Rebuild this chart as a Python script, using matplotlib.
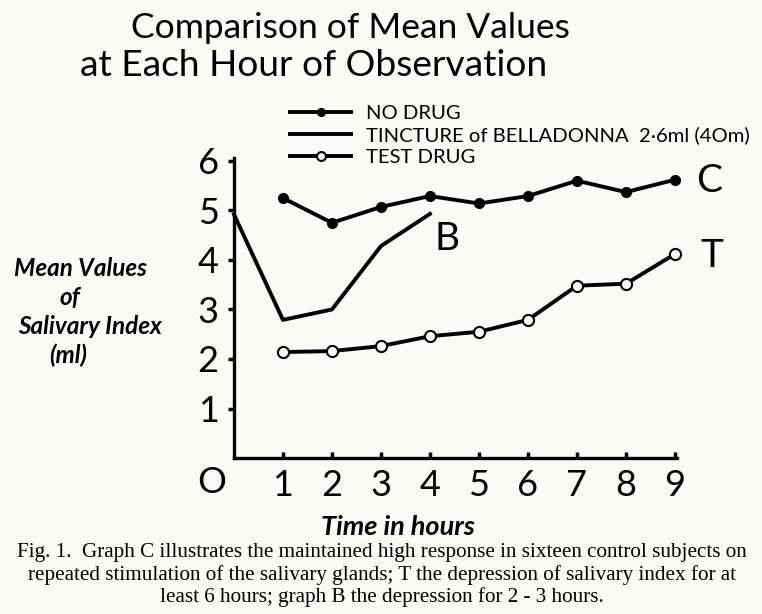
import numpy as np
import matplotlib.pyplot as plt

## data
hours_c = [1, 2, 3, 4, 5, 6, 7, 8, 9]
no_drug = [5.25, 4.75, 5.07, 5.29, 5.14, 5.29, 5.6, 5.37, 5.62]

hours_b = [0, 1, 2, 3, 4]
belladonna = [4.92, 2.79, 3.0, 4.28, 4.93]

hours_t = [1, 2, 3, 4, 5, 6, 7, 8, 9]
test_drug = [2.14, 2.16, 2.26, 2.46, 2.55, 2.79, 3.48, 3.52, 4.12]

yticks = [1, 2, 3, 4, 5, 6]
xticks = [1, 2, 3, 4, 5, 6, 7, 8, 9]

plt.rcParams['font.family'] = ['Lato', 'DejaVu Sans']
bg = '#fafaf8'

fig = plt.figure(figsize=(7.62, 6.14), dpi=100, facecolor=bg)
ax = fig.add_axes([0.307, 0.254, 0.582, 0.488], facecolor=bg)

lw = 2.8
ax.plot(hours_c, no_drug, color='black', lw=lw, marker='o', ms=7,
        mfc='black', mec='black', clip_on=False, label='NO DRUG')
ax.plot(hours_b, belladonna, color='black', lw=lw, clip_on=False,
        label='TINCTURE of BELLADONNA  2·6ml (4Om)')
ax.plot(hours_t, test_drug, color='black', lw=lw, marker='o', ms=8,
        mfc='white', mec='black', mew=1.5, clip_on=False, label='TEST DRUG')

ax.set_xlim(0, 9.05)
ax.set_ylim(0, 6.05)
for s in ['top', 'right']:
    ax.spines[s].set_visible(False)
for s in ['left', 'bottom']:
    ax.spines[s].set_linewidth(2.4)

ax.set_xticks(xticks)
ax.set_yticks(yticks)
ax.set_xticklabels([str(v) for v in xticks], fontsize=26)
ax.set_yticklabels([str(v) for v in yticks], fontsize=26)
ax.tick_params(axis='x', direction='in', length=4, width=2.5, pad=8)
ax.tick_params(axis='y', direction='out', length=4, width=2.5, pad=7)

ax.text(-0.45, -0.5, 'O', fontsize=26, ha='center', va='center')

# curve letters
ax.text(9.7, 5.6, 'C', fontsize=28, ha='center', va='center')
ax.text(4.35, 4.42, 'B', fontsize=28, ha='center', va='center')
ax.text(9.75, 4.08, 'T', fontsize=28, ha='center', va='center')

leg = ax.legend(loc='upper left', bbox_to_anchor=(0.104, 1.212), frameon=False,
                fontsize=14.6, handlelength=3.0, handletextpad=0.75,
                labelspacing=0.22, borderpad=0, markerscale=0.8)

# axis labels
ylab = [('Mean Values', 80, 268), ('of', 70, 297),
        ('Salivary Index', 90, 326), ('(ml)', 68, 355)]
for txt, x, y in ylab:
    fig.text(x, 614 - y, txt, transform=None, fontsize=17.5,
             fontstyle='italic', fontweight='bold', ha='center', va='center')
fig.text(398, 614 - 527, 'Time in hours', transform=None, fontsize=19.5,
         fontstyle='italic', fontweight='bold', ha='center', va='center')

# title
fig.text(350, 614 - 38, 'Comparison of Mean Values', transform=None,
         fontsize=25.5, ha='center', va='baseline')
fig.text(314, 614 - 76, 'at Each Hour of Observation', transform=None,
         fontsize=26.7, ha='center', va='baseline')

# caption
cap = ["Fig. 1.  Graph C illustrates the maintained high response in sixteen control subjects on",
       "repeated stimulation of the salivary glands; T the depression of salivary index for at",
       "least 6 hours; graph B the depression for 2 - 3 hours."]
for i, line in enumerate(cap):
    fig.text(382, 614 - (553 + 22 * i), line, transform=None, fontsize=15.2,
             family='Liberation Serif', ha='center', va='center')

fig.savefig('out.png', dpi=100, facecolor=bg)
